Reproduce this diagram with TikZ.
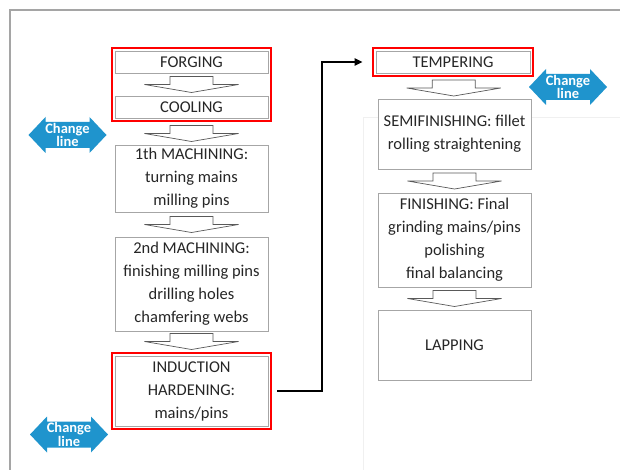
\documentclass[tikz,border=0pt]{standalone}
\usepackage{fontspec}
\setmainfont{Carlito}
\usetikzlibrary{fit,arrows.meta,calc}
\definecolor{clblue}{RGB}{31,148,205}
\definecolor{boxgray}{RGB}{166,166,166}
\definecolor{txt}{RGB}{38,38,38}
\definecolor{framegray}{RGB}{165,165,165}
\begin{document}
\begin{tikzpicture}[x=1pt,y=-1pt,
  stepbox/.style={draw=boxgray,line width=0.8pt,fill=white,minimum width=153pt,inner sep=0pt,align=center,text=txt,font=\fontsize{16.5}{23}\selectfont},
  redbox/.style={draw=red,line width=2pt,inner sep=3pt},
  conn/.style={line width=2pt,-{Triangle[length=8pt,width=7pt]}},
  hollow/.pic={\draw[fill=white,draw=black!65,line width=0.7pt] (-21.5,-8) -- (21.5,-8) -- (21.5,0) -- (47,0) -- (0,8) -- (-47,0) -- (-21.5,0) -- cycle;},
  clshape/.pic={\fill[clblue] (-39,0) -- (-22,-18) -- (-22,-13) -- (22,-13) -- (22,-18) -- (39,0) -- (22,18) -- (22,13) -- (-22,13) -- (-22,18) -- cycle;},
  cltext/.style={text=white,font=\bfseries\fontsize{14.5}{11}\selectfont,align=center,inner sep=0pt}
]
\useasboundingbox (0,0) rectangle (620,470);
\fill[white] (0,0) rectangle (620,470);
% frame and faint lines
\draw[framegray,line width=2pt] (10,471) -- (10,10) -- (621,10);
\draw[gray!12,line width=1pt] (363,471) -- (363,118) -- (621,118);

% left column
\node[stepbox,minimum height=22pt] (forging) at (191.5,62) {FORGING};
\node[stepbox,minimum height=22pt] (cooling) at (191.5,107) {COOLING};
\node[redbox,fit=(forging)(cooling)] (redA) {};
\node[stepbox,minimum height=67pt] (mach1) at (191.5,178.5) {1th MACHINING:\\turning mains\\milling pins};
\node[stepbox,minimum height=94pt] (mach2) at (191.5,284) {2nd MACHINING:\\finishing milling pins\\drilling holes\\chamfering webs};
\node[stepbox,minimum height=70pt] (induct) at (191.5,391) {INDUCTION\\HARDENING:\\mains/pins};
\node[redbox,fit=(induct)] (redB) {};

% right column
\node[stepbox,minimum width=154pt,minimum height=22pt] (temper) at (453,62) {TEMPERING};
\node[redbox,fit=(temper)] (redC) {};
\node[stepbox,minimum height=70pt] (semi) at (454.5,134) {SEMIFINISHING: fillet\\rolling straightening};
\node[stepbox,minimum height=94pt] (finish) at (454.5,240) {FINISHING: Final\\grinding mains/pins\\polishing\\final balancing};
\node[stepbox,minimum height=70pt] (lapping) at (454.5,345) {LAPPING};

% hollow arrows
\pic at ($(forging.south)!0.5!(cooling.north)$) {hollow};
\pic at ($(redA.south)!0.5!(mach1.north)$) {hollow};
\pic at ($(mach1.south)!0.5!(mach2.north)$) {hollow};
\pic at ($(mach2.south)!0.5!(redB.north)$) {hollow};
\pic at ($(redC.south)!0.5!(semi.north)$) {hollow};
\pic at ($(semi.south)!0.5!(finish.north)$) {hollow};
\pic at ($(finish.south)!0.5!(lapping.north)$) {hollow};

% connector
\draw[conn] ([xshift=5pt]redB.east) -| ($(redC.west)+(-50pt,0)$) -- ([xshift=-9pt]redC.west);

% change line markers
\pic at (67.5,135) {clshape};
\node[cltext] (cl1) at (67.5,135) {Change\\line};
\pic at (69,434.5) {clshape};
\node[cltext] (cl2) at (69,434.5) {Change\\line};
\pic at (568,87) {clshape};
\node[cltext] (cl3) at (568,87) {Change\\line};
\end{tikzpicture}
\end{document}
